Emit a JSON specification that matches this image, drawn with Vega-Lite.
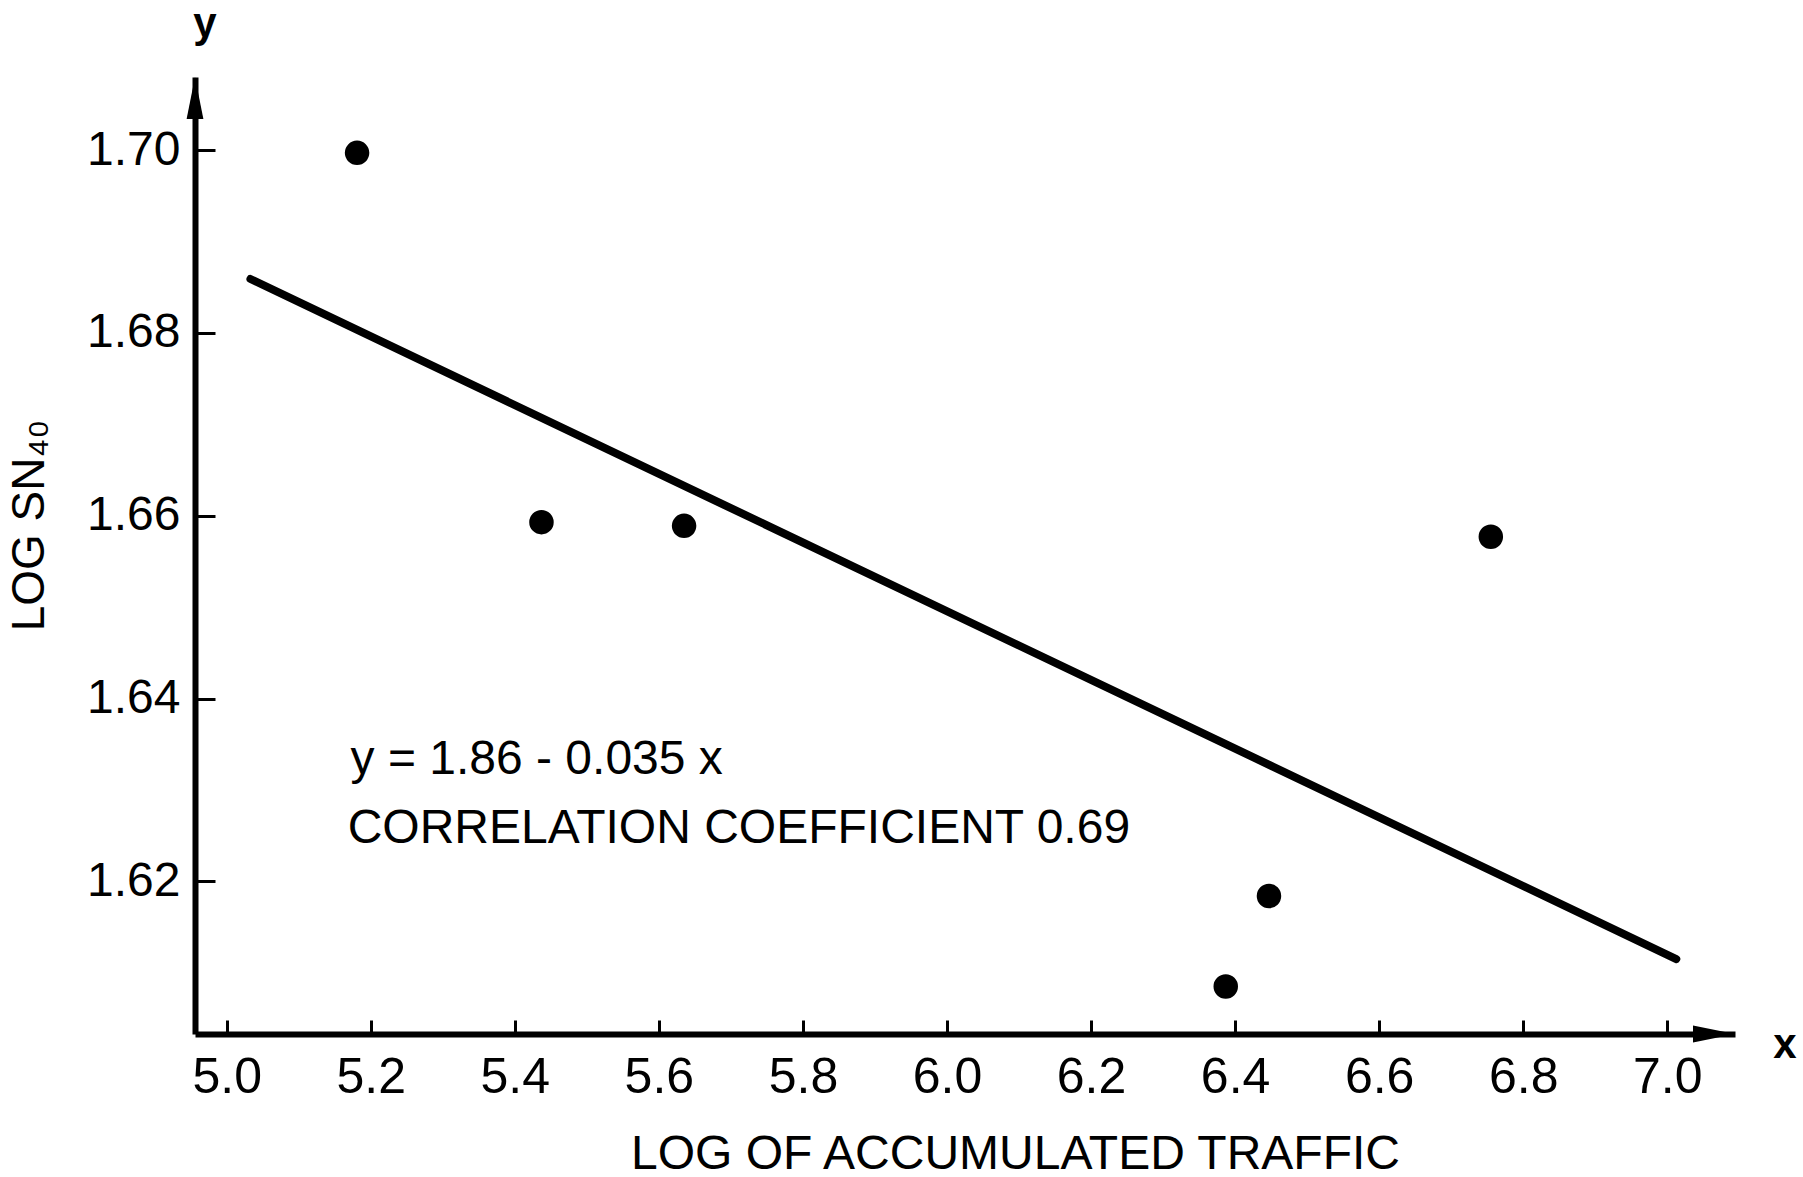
{
  "$schema": "https://vega.github.io/schema/vega-lite/v6.json",
  "width": 1540,
  "height": 957,
  "autosize": {"type": "none"},
  "padding": {"left": 195, "top": 77, "right": 68, "bottom": 143},
  "background": "white",
  "config": {"view": {"stroke": null}, "font": "Liberation Sans"},
  "datasets": {
    "points": [
      {"x": 5.181, "y": 1.6997},
      {"x": 5.437, "y": 1.6593},
      {"x": 5.635, "y": 1.6589},
      {"x": 6.755, "y": 1.6577},
      {"x": 6.447, "y": 1.6184},
      {"x": 6.387, "y": 1.6085}
    ],
    "fit": [
      {"x": 5.033, "y": 1.6859},
      {"x": 7.0125, "y": 1.6115}
    ]
  },
  "layer": [
    {
      "data": {"name": "fit"},
      "mark": {"type": "line", "color": "black", "strokeWidth": 8, "strokeCap": "round"},
      "encoding": {
        "x": {
          "field": "x",
          "type": "quantitative",
          "scale": {"domain": [4.956, 7.094], "nice": false, "zero": false},
          "axis": {
            "title": "LOG OF ACCUMULATED TRAFFIC",
            "values": [5.0, 5.2, 5.4, 5.6, 5.8, 6.0, 6.2, 6.4, 6.6, 6.8, 7.0],
            "format": ".1f",
            "grid": false,
            "domainColor": "black",
            "domainWidth": 6,
            "tickColor": "black",
            "tickWidth": 3,
            "tickSize": -14,
            "labelPadding": 72,
            "labelBaseline": "alphabetic",
            "labelFontSize": 50,
            "labelColor": "black",
            "labelFlush": false,
            "labelOverlap": false,
            "titleFontSize": 48,
            "titleFontWeight": "normal",
            "titleColor": "black",
            "titleX": 820,
            "titleY": 134,
            "titleBaseline": "alphabetic",
            "titleAlign": "center"
          }
        },
        "y": {
          "field": "y",
          "type": "quantitative",
          "scale": {"domain": [1.6033, 1.708], "nice": false, "zero": false},
          "axis": {
            "title": "LOG SN₄₀",
            "values": [1.62, 1.64, 1.66, 1.68, 1.70],
            "format": ".2f",
            "grid": false,
            "domainColor": "black",
            "domainWidth": 6,
            "tickColor": "black",
            "tickWidth": 3,
            "tickSize": -20,
            "labelPadding": 35,
            "labelBaseline": "middle",
            "labelFontSize": 48,
            "labelColor": "black",
            "labelFlush": false,
            "labelOverlap": false,
            "titleFontSize": 46,
            "titleFontWeight": "normal",
            "titleColor": "black",
            "titleAngle": -90,
            "titleX": -152,
            "titleY": 448,
            "titleBaseline": "alphabetic",
            "titleAlign": "center"
          }
        }
      }
    },
    {
      "data": {"name": "points"},
      "mark": {"type": "point", "filled": true, "color": "black", "opacity": 1, "size": 600},
      "encoding": {
        "x": {"field": "x", "type": "quantitative"},
        "y": {"field": "y", "type": "quantitative"}
      }
    },
    {
      "data": {"values": [{}]},
      "mark": {"type": "text", "text": "y = 1.86 - 0.035 x", "fontSize": 48, "color": "black", "align": "left", "baseline": "alphabetic"},
      "encoding": {
        "x": {"datum": 5.172, "type": "quantitative"},
        "y": {"datum": 1.6317, "type": "quantitative"}
      }
    },
    {
      "data": {"values": [{}]},
      "mark": {"type": "text", "text": "CORRELATION COEFFICIENT 0.69", "fontSize": 48, "color": "black", "align": "left", "baseline": "alphabetic"},
      "encoding": {
        "x": {"datum": 5.168, "type": "quantitative"},
        "y": {"datum": 1.6242, "type": "quantitative"}
      }
    },
    {
      "data": {"values": [{}]},
      "mark": {"type": "text", "text": "y", "fontSize": 42, "fontWeight": "bold", "color": "black", "align": "center", "baseline": "alphabetic", "dx": 10, "dy": -40},
      "encoding": {
        "x": {"datum": 4.956, "type": "quantitative"},
        "y": {"datum": 1.708, "type": "quantitative"}
      }
    },
    {
      "data": {"values": [{}]},
      "mark": {"type": "text", "text": "x", "fontSize": 42, "fontWeight": "bold", "color": "black", "align": "center", "baseline": "alphabetic", "dx": 50, "dy": 24},
      "encoding": {
        "x": {"datum": 7.094, "type": "quantitative"},
        "y": {"datum": 1.6033, "type": "quantitative"}
      }
    },
    {
      "data": {"values": [{}]},
      "mark": {"type": "point", "filled": true, "color": "black", "opacity": 1, "size": 1764, "shape": "M0,0L0.4,2L-0.4,2Z"},
      "encoding": {
        "x": {"datum": 4.956, "type": "quantitative"},
        "y": {"datum": 1.708, "type": "quantitative"}
      }
    },
    {
      "data": {"values": [{}]},
      "mark": {"type": "point", "filled": true, "color": "black", "opacity": 1, "size": 1764, "shape": "M0,0L-2,-0.4L-2,0.4Z"},
      "encoding": {
        "x": {"datum": 7.094, "type": "quantitative"},
        "y": {"datum": 1.6033, "type": "quantitative"}
      }
    }
  ]
}
